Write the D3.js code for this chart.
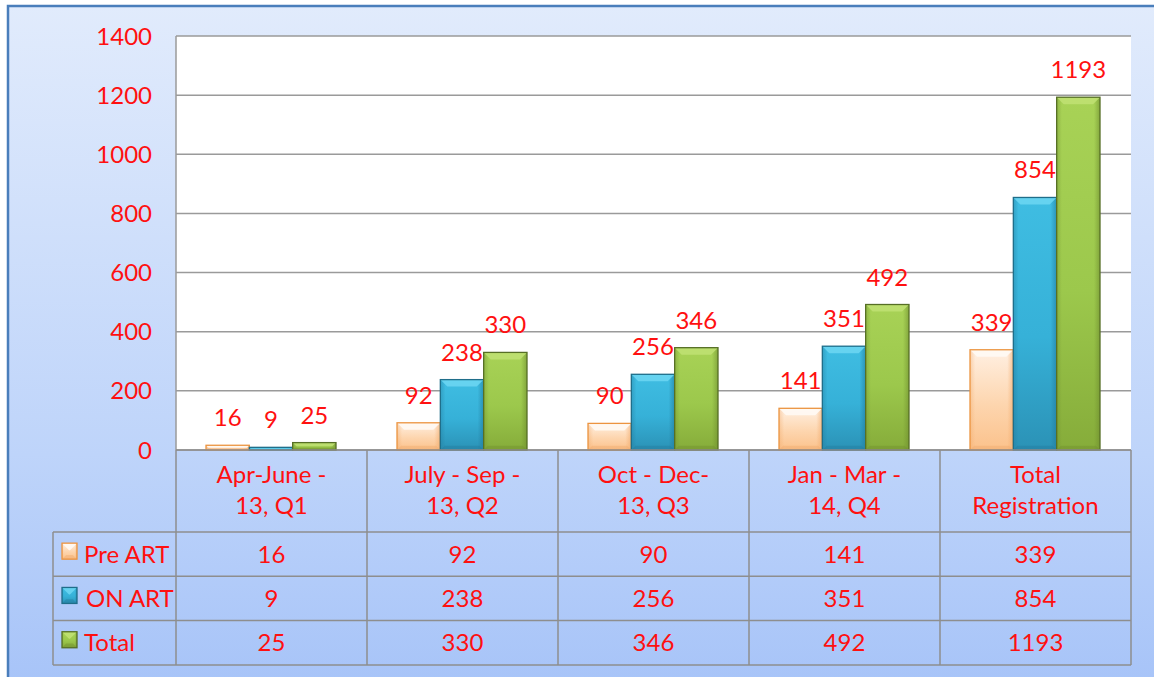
<!DOCTYPE html>
<html><head><meta charset="utf-8">
<script src="https://cdn.jsdelivr.net/npm/d3@7"></script>
<style>html,body{margin:0;padding:0;overflow:hidden;background:#fff}</style>
</head><body><svg id="c" width="1154" height="677"></svg>
<script>
const categories = [["Apr-June -","13, Q1"],["July - Sep -","13, Q2"],["Oct - Dec-","13, Q3"],["Jan - Mar -","14, Q4"],["Total","Registration"]];
const seriesNames = ["Pre ART","ON ART","Total"];
const preART = [16, 92, 90, 141, 339];
const onART = [9, 238, 256, 351, 854];
const total = [25, 330, 346, 492, 1193];
const yTicks = [0,200,400,600,800,1000,1200,1400];

const series = [preART, onART, total];
const styles = [
  {top:"#fff0e2", mid:"#fdd5ae", bot:"#fbc28c", stroke:"#ec9440", bevel:"#fffaf4", dark:"#f0a868"},
  {top:"#3fbde2", mid:"#36b1d8", bot:"#2b92b6", stroke:"#1f6e8a", bevel:"#6ad5f2", dark:"#22799a"},
  {top:"#a8d256", mid:"#9cc84c", bot:"#86ac3a", stroke:"#566f25", bevel:"#bfe072", dark:"#6d8c2e"}
];
const red = "#ff1010";
const font = "Lato, 'Open Sans', sans-serif";
const fs = 24;
const svg = d3.select("#c");
const defs = svg.append("defs");

const bg = defs.append("linearGradient").attr("id","bg").attr("x1",0).attr("y1",0).attr("x2",0).attr("y2",1);
bg.append("stop").attr("offset","0%").attr("stop-color","#e1ebfc");
bg.append("stop").attr("offset","65%").attr("stop-color","#bed4fa");
bg.append("stop").attr("offset","100%").attr("stop-color","#a6c3f8");
styles.forEach((s,i)=>{
  const g = defs.append("linearGradient").attr("id","g"+i).attr("x1",0).attr("y1",0).attr("x2",0).attr("y2",1);
  g.append("stop").attr("offset","0%").attr("stop-color",s.top);
  g.append("stop").attr("offset","55%").attr("stop-color",s.mid);
  g.append("stop").attr("offset","100%").attr("stop-color",s.bot);
  const h = defs.append("linearGradient").attr("id","h"+i).attr("x1",0).attr("y1",0).attr("x2",1).attr("y2",0);
  h.append("stop").attr("offset","0%").attr("stop-color",s.dark).attr("stop-opacity",0.4);
  h.append("stop").attr("offset","12%").attr("stop-color",s.dark).attr("stop-opacity",0);
  h.append("stop").attr("offset","86%").attr("stop-color",s.dark).attr("stop-opacity",0);
  h.append("stop").attr("offset","100%").attr("stop-color",s.dark).attr("stop-opacity",0.6);
});

// background
svg.append("rect").attr("x",8).attr("y",6).attr("width",1160).attr("height",690)
  .attr("fill","url(#bg)").attr("stroke","#4a7ebb").attr("stroke-width",2.5);

const plotL = 176, plotR = 1131, plotT = 36, plotB = 450;
const x0 = d3.scaleBand().domain(d3.range(categories.length)).range([plotL, plotR]);
const x1 = d3.scaleBand().domain(d3.range(series.length)).range([30, 160]);
const y = d3.scaleLinear().domain([0,1400]).range([plotB, plotT]);

svg.append("rect").attr("x",plotL).attr("y",plotT).attr("width",plotR-plotL).attr("height",plotB-plotT).attr("fill","#fff");

// gridlines
svg.append("g").selectAll("line").data(yTicks).join("line")
  .attr("x1",plotL).attr("x2",plotR).attr("y1",d=>y(d)).attr("y2",d=>y(d))
  .attr("stroke","#9a9a9a").attr("stroke-width",1.5);
svg.append("line").attr("x1",plotL).attr("x2",plotL).attr("y1",plotT).attr("y2",plotB).attr("stroke","#9a9a9a").attr("stroke-width",1.5);

// y axis labels
const yAxis = d3.axisLeft(y).tickValues(yTicks).tickFormat(d3.format("d")).tickSize(0).tickPadding(0);
const ya = svg.append("g").attr("transform",`translate(152,0)`).call(yAxis);
ya.select(".domain").remove();
ya.selectAll("text").attr("fill",red).attr("font-family",font).attr("font-size",fs)
  .attr("dy",null).attr("y",8).attr("text-anchor","end");

// bars
function bevelBar(g, x, yTop, w, h, i) {
  const s = styles[i];
  const b = Math.min(7, h/2, w/2);
  g.append("rect").attr("x",x).attr("y",yTop).attr("width",w).attr("height",h).attr("fill",`url(#g${i})`);
  g.append("rect").attr("x",x).attr("y",yTop).attr("width",w).attr("height",h).attr("fill",`url(#h${i})`);
  if (h > 2) {
    g.append("polygon").attr("points",[[x,yTop],[x+w,yTop],[x+w-b,yTop+b],[x+b,yTop+b]].map(p=>p.join(",")).join(" "))
      .attr("fill",s.bevel).attr("opacity",0.9);
    g.append("polygon").attr("points",[[x,yTop+h],[x+w,yTop+h],[x+w-b*0.6,yTop+h-b*0.6],[x+b*0.6,yTop+h-b*0.6]].map(p=>p.join(",")).join(" "))
      .attr("fill",s.dark).attr("opacity",0.4);
  }
  g.append("rect").attr("x",x).attr("y",yTop).attr("width",w).attr("height",h)
    .attr("fill","none").attr("stroke",s.stroke).attr("stroke-width",1.3);
}
const barsG = svg.append("g");
categories.forEach((c,ci)=>{
  series.forEach((vals,si)=>{
    const v = vals[ci];
    const bx = x0(ci) + x1(si), bw = x1.bandwidth();
    const yt = y(v), h = y(0) - y(v);
    bevelBar(barsG, bx, yt, bw, h, si);
  });
});
// data labels
const lblG = svg.append("g");
categories.forEach((c,ci)=>{
  series.forEach((vals,si)=>{
    const v = vals[ci];
    lblG.append("text").attr("x", x0(ci)+x1(si)+x1.bandwidth()/2).attr("y", y(v)-19)
      .attr("text-anchor","middle").attr("fill",red).attr("font-family",font).attr("font-size",fs).text(v);
  });
});

// table
const rowTop = 532, rowH = 44.3;
const tg = svg.append("g").attr("stroke","#8e8e8e").attr("stroke-width",1.5);
tg.append("line").attr("x1",plotL).attr("x2",plotR).attr("y1",plotB).attr("y2",plotB);
for (let r=0;r<=series.length;r++) {
  tg.append("line").attr("x1",53).attr("x2",plotR).attr("y1",rowTop+r*rowH).attr("y2",rowTop+r*rowH);
}
tg.append("line").attr("x1",53).attr("x2",53).attr("y1",rowTop).attr("y2",rowTop+series.length*rowH);
d3.range(categories.length+1).forEach(k=>{
  const xx = k<categories.length ? x0(k) : plotR;
  tg.append("line").attr("x1",xx).attr("x2",xx).attr("y1",plotB).attr("y2",rowTop+series.length*rowH);
});
// category labels
categories.forEach((c,ci)=>{
  const t = svg.append("text").attr("text-anchor","middle").attr("fill",red).attr("font-family",font).attr("font-size",fs);
  c.forEach((line,li)=>{
    t.append("tspan").attr("x",x0(ci)+x0.bandwidth()/2).attr("y",483+li*31).text(line);
  });
});
// values
series.forEach((vals,si)=>{
  const cy = rowTop + si*rowH + rowH/2;
  vals.forEach((v,ci)=>{
    svg.append("text").attr("x",x0(ci)+x0.bandwidth()/2).attr("y",cy).attr("dy","0.36em")
      .attr("text-anchor","middle").attr("fill",red).attr("font-family",font).attr("font-size",fs).text(v);
  });
  // legend key
  const kg = svg.append("g");
  bevelBar(kg, 62, cy-11, 15, 16, si);
  svg.append("text").attr("x", si===1?86:84).attr("y",cy).attr("dy","0.36em")
    .attr("fill",red).attr("font-family",font).attr("font-size",fs).text(seriesNames[si]);
});
</script>
</body></html>
